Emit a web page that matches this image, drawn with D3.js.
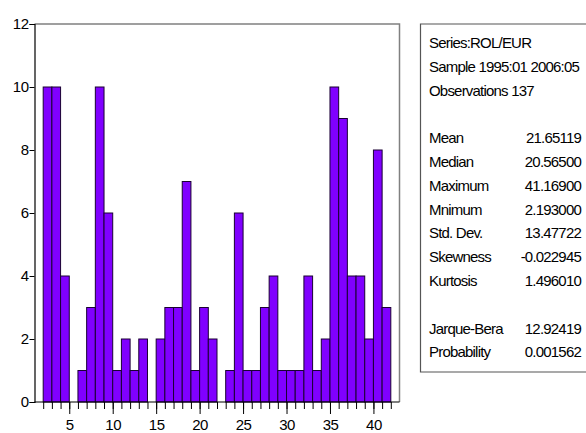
<!DOCTYPE html>
<html>
<head>
<meta charset="utf-8">
<script src="https://cdn.jsdelivr.net/npm/d3@7"></script>
<style>
  html, body { margin: 0; padding: 0; background: #fff; }
  svg { display: block; }
  text { font-family: Arial, "Liberation Sans", sans-serif; fill: #000; }
</style>
</head>
<body>
<svg id="chart" width="586" height="433"></svg>
<script>
// Histogram bins of width 1: bin i covers [binStarts[i], binStarts[i] + 1)
const binStarts = d3.range(2, 42);
const counts = [10, 10, 4, 0, 1, 3, 10, 6, 1, 2,
                1, 2, 0, 2, 3, 3, 7, 1, 3, 2,
                0, 1, 6, 1, 1, 3, 4, 1, 1, 1,
                4, 1, 2, 10, 9, 4, 4, 2, 8, 3];
const yTicks = [0, 2, 4, 6, 8, 10, 12];
const xMajorTicks = [5, 10, 15, 20, 25, 30, 35, 40];
const xMinorTicks = d3.range(2, 43);

// Descriptive statistics panel
const headerLines = ["Series:ROL/EUR", "Sample 1995:01 2006:05", "Observations 137"];
const statNames = ["Mean", "Median", "Maximum", "Mnimum", "Std. Dev.", "Skewness", "Kurtosis"];
const statValues = ["21.65119", "20.56500", "41.16900", "2.193000", "13.47722", "-0.022945", "1.496010"];
const testNames = ["Jarque-Bera", "Probability"];
const testValues = ["12.92419", "0.001562"];

const svg = d3.select("#chart");
const plot = { left: 34.5, right: 399.5, top: 24, bottom: 402 };

const x = d3.scaleLinear().domain([1, 43]).range([plot.left, plot.right]);
const y = d3.scaleLinear().domain([0, 12]).range([plot.bottom, plot.top]);

// frame: grey top and right edges
svg.append("path")
  .attr("d", `M${plot.left},${plot.top}H${plot.right}V${plot.bottom}`)
  .attr("fill", "none").attr("stroke", "#808080").attr("stroke-width", 1.5);

// bars
svg.append("g").selectAll("rect")
  .data(binStarts.map((b, i) => ({ b, c: counts[i] })).filter(d => d.c > 0))
  .join("rect")
  .attr("x", d => x(d.b))
  .attr("width", d => x(d.b + 1) - x(d.b))
  .attr("y", d => y(d.c))
  .attr("height", d => y(0) - y(d.c))
  .attr("fill", "#8000ff")
  .attr("stroke", "#1a0033")
  .attr("stroke-width", 1);

// y axis
const yAxis = d3.axisLeft(y).tickValues(yTicks).tickSize(5).tickPadding(1).tickFormat(d3.format("d"));
const gy = svg.append("g").attr("transform", `translate(${plot.left},0)`).call(yAxis);
gy.select(".domain").attr("stroke", "#000").attr("stroke-width", 1.2);
gy.selectAll(".tick line").attr("stroke", "#000");
gy.selectAll(".tick text").attr("font-size", 15).attr("font-family", "Arial, 'Liberation Sans', sans-serif").attr("letter-spacing", "-0.5px");

// x axis: minor ticks at each bin edge, major labelled ticks every 5
const gxMinor = svg.append("g").attr("transform", `translate(0,${plot.bottom})`)
  .call(d3.axisBottom(x).tickValues(xMinorTicks).tickSize(7).tickFormat(""));
gxMinor.select(".domain").remove();
gxMinor.selectAll(".tick line").attr("stroke", "#000");

const gx = svg.append("g").attr("transform", `translate(0,${plot.bottom})`)
  .call(d3.axisBottom(x).tickValues(xMajorTicks).tickSize(12).tickPadding(5).tickFormat(d3.format("d")));
gx.select(".domain").attr("d", `M${plot.left},0H${plot.right}`).attr("stroke", "#000").attr("stroke-width", 1.2);
gx.selectAll(".tick line").attr("stroke", "#000");
gx.selectAll(".tick text").attr("font-size", 15).attr("font-family", "Arial, 'Liberation Sans', sans-serif").attr("letter-spacing", "-0.5px");

// statistics box
const box = { left: 420.5, top: 24, bottom: 372 };
svg.append("path")
  .attr("d", `M590,${box.top}H${box.left}V${box.bottom}H590`)
  .attr("fill", "none").attr("stroke", "#555").attr("stroke-width", 1.2);

const rowH = 23.8;
const textX = 429;
const valX = 581;
const base0 = 48;
const txt = svg.append("g").attr("font-size", 15).attr("letter-spacing", "-0.8px");

headerLines.forEach((t, i) => {
  txt.append("text").attr("x", textX).attr("y", base0 + i * rowH).text(t);
});
statNames.forEach((t, i) => {
  const yy = base0 + (i + 4) * rowH;
  txt.append("text").attr("x", textX).attr("y", yy).text(t);
  txt.append("text").attr("x", valX).attr("y", yy).attr("text-anchor", "end").text(statValues[i]);
});
testNames.forEach((t, i) => {
  const yy = base0 + (i + 12) * rowH;
  txt.append("text").attr("x", textX).attr("y", yy).text(t);
  txt.append("text").attr("x", valX).attr("y", yy).attr("text-anchor", "end").text(testValues[i]);
});
</script>
</body>
</html>
